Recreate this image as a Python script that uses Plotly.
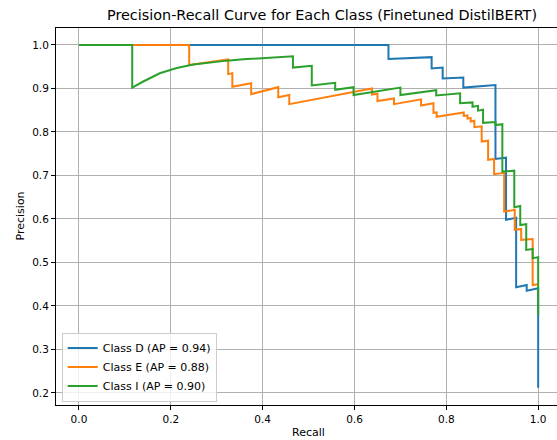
import plotly.graph_objects as go

# ---- data ----
recall_d = [0.0, 0.674, 0.674, 0.768, 0.768, 0.792, 0.792, 0.837, 0.837, 0.907, 0.907,
            0.930, 0.930, 0.952, 0.952, 0.975, 0.975, 1.0, 1.0]
precision_d = [1.0, 1.0, 0.968, 0.972, 0.946, 0.948, 0.923, 0.925, 0.902, 0.908, 0.738,
               0.741, 0.598, 0.603, 0.443, 0.448, 0.435, 0.441, 0.212]

recall_e = [0.0, 0.240, 0.240, 0.325, 0.325, 0.334, 0.334, 0.375, 0.375, 0.434, 0.434,
            0.458, 0.458, 0.540, 0.638, 0.638, 0.650, 0.650, 0.686, 0.686, 0.745, 0.745,
            0.772, 0.772, 0.779, 0.779, 0.838, 0.838, 0.846, 0.846, 0.853, 0.853, 0.861,
            0.861, 0.877, 0.877, 0.891, 0.891, 0.904, 0.904, 0.926, 0.926, 0.949, 0.949,
            0.963, 0.963, 0.988, 0.988, 1.0]
precision_e = [1.0, 1.0, 0.954, 0.967, 0.933, 0.935, 0.904, 0.912, 0.887, 0.903, 0.880,
               0.885, 0.864, 0.881, 0.900, 0.886, 0.888, 0.871, 0.877, 0.864, 0.875, 0.861,
               0.866, 0.844, 0.845, 0.835, 0.845, 0.837, 0.838, 0.831, 0.832, 0.824, 0.826,
               0.811, 0.813, 0.778, 0.780, 0.736, 0.738, 0.703, 0.706, 0.617, 0.621, 0.575,
               0.577, 0.552, 0.554, 0.448, 0.450]

recall_i = [0.0, 0.116, 0.116, 0.140, 0.176, 0.213, 0.249, 0.285, 0.322, 0.358, 0.394,
            0.430, 0.466, 0.466, 0.507, 0.507, 0.558, 0.558, 0.598, 0.598, 0.700, 0.700,
            0.778, 0.778, 0.830, 0.830, 0.857, 0.857, 0.869, 0.869, 0.880, 0.880, 0.907,
            0.907, 0.922, 0.922, 0.948, 0.948, 0.961, 0.961, 0.974, 0.974, 0.988, 0.988,
            1.0, 1.0]
precision_i = [1.0, 1.0, 0.902, 0.916, 0.935, 0.947, 0.955, 0.960, 0.964, 0.967, 0.969,
               0.972, 0.974, 0.948, 0.952, 0.907, 0.913, 0.897, 0.903, 0.885, 0.902, 0.885,
               0.896, 0.884, 0.889, 0.866, 0.868, 0.858, 0.860, 0.849, 0.851, 0.821, 0.823,
               0.816, 0.818, 0.709, 0.711, 0.627, 0.630, 0.586, 0.588, 0.529, 0.531, 0.510,
               0.512, 0.379]

class_names = ["Class D", "Class E", "Class I"]
ap_scores = [0.94, 0.88, 0.90]
colors = ["#1f77b4", "#ff7f0e", "#2ca02c"]

x_ticks = [0.0, 0.2, 0.4, 0.6, 0.8, 1.0]
y_ticks = [0.2, 0.3, 0.4, 0.5, 0.6, 0.7, 0.8, 0.9, 1.0]

FONT = "DejaVu Sans"

fig = go.Figure()
for name, ap, col, r, p in zip(class_names, ap_scores, colors,
                               [recall_d, recall_e, recall_i],
                               [precision_d, precision_e, precision_i]):
    fig.add_trace(go.Scatter(x=r, y=p, mode="lines",
                             name=f"{name} (AP = {ap:.2f})",
                             line=dict(color=col, width=2)))

W, H = 557, 440
ml, mr, mt, mb = 56, 0, 28, 35

fig.update_layout(
    width=W, height=H,
    margin=dict(l=ml, r=mr, t=mt, b=mb, autoexpand=False),
    paper_bgcolor="white", plot_bgcolor="white",
    font=dict(family=FONT, size=10, color="#000000"),
    title=dict(text="Precision-Recall Curve for Each Class (Finetuned DistilBERT)",
               x=322 / W, xanchor="center", y=1 - 15 / H, yanchor="middle",
               font=dict(family=FONT, size=14.4, color="#000000")),
    showlegend=True,
    legend=dict(x=0.0114, y=0.009, xanchor="left", yanchor="bottom",
                bgcolor="rgba(255,255,255,0.8)", bordercolor="#cccccc", borderwidth=1,
                font=dict(family=FONT, size=11, color="#000000"),
                itemwidth=30, tracegroupgap=0),
)
fig.update_xaxes(range=[-0.05, 1.041], tickvals=x_ticks,
                 ticktext=[f"{v:.1f}" for v in x_ticks],
                 showgrid=True, gridcolor="#b0b0b0", gridwidth=1,
                 showline=True, linecolor="#000000", linewidth=1, mirror=True,
                 ticks="outside", ticklen=4, tickcolor="#000000",
                 tickfont=dict(size=10.5),
                 zeroline=False, fixedrange=True, automargin=False)
fig.update_yaxes(range=[0.1724, 1.039], tickvals=y_ticks,
                 ticktext=[f"{v:.1f}" for v in y_ticks],
                 showgrid=True, gridcolor="#b0b0b0", gridwidth=1,
                 showline=True, linecolor="#000000", linewidth=1,
                 ticks="outside", ticklen=4, tickcolor="#000000",
                 tickfont=dict(size=10.5),
                 zeroline=False, fixedrange=True, automargin=False)

fig.add_annotation(text="Recall", xref="paper", yref="paper",
                   x=(308 - ml) / (W - ml - mr), y=-(432 - (H - mb)) / (H - mt - mb),
                   xanchor="center", yanchor="middle", showarrow=False,
                   font=dict(family=FONT, size=11))
fig.add_annotation(text="Precision", xref="paper", yref="paper",
                   x=-(ml - 20) / (W - ml - mr), y=0.5, textangle=-90,
                   xanchor="center", yanchor="middle", showarrow=False,
                   font=dict(family=FONT, size=11))

fig.write_html("out.html",
               config={"displayModeBar": False},
               post_script="document.body.style.margin='0';"
                           "document.body.style.overflow='hidden';")
